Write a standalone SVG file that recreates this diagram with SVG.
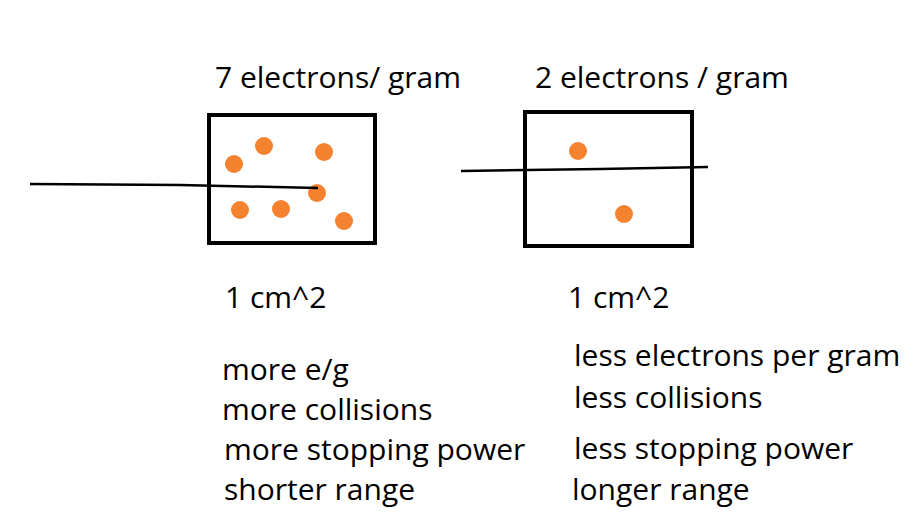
<svg xmlns="http://www.w3.org/2000/svg" width="911" height="531" viewBox="0 0 911 531">
<style>
text{font-family:"Open Sans","Noto Sans",sans-serif;font-size:30px;fill:#000}
.box{fill:none;stroke:#000;stroke-width:4}
.dot{fill:#f5822f}
.ln{fill:none;stroke:#000;stroke-width:2.5}
</style>
<rect width="911" height="531" fill="#fff"/>
<rect class="box" x="209" y="115" width="166" height="128"/>
<rect class="box" x="525" y="112" width="167" height="134"/>
<g>
<circle class="dot" cx="234" cy="164" r="9"/><circle class="dot" cx="264" cy="146" r="9"/>
<circle class="dot" cx="324" cy="152" r="9"/><circle class="dot" cx="240" cy="210" r="9"/>
<circle class="dot" cx="281" cy="209" r="9"/><circle class="dot" cx="317" cy="193" r="9"/>
<circle class="dot" cx="344" cy="221" r="9"/>
<circle class="dot" cx="578" cy="151" r="9"/><circle class="dot" cx="624" cy="214" r="9"/>
</g>
<path class="ln" d="M30 184 L180 185 L318 188"/>
<path class="ln" d="M461 171 L600 169 L708 167"/>
<text x="215" y="88">7 electrons/ gram</text>
<text x="535" y="88">2 electrons / gram</text>
<text x="225" y="308">1 cm^2</text>
<text x="568" y="308">1 cm^2</text>
<text x="222" y="380">more e/g</text>
<text x="222" y="420">more collisions</text>
<text x="224" y="460">more stopping power</text>
<text x="224" y="500">shorter range</text>
<text x="574" y="366">less electrons per gram</text>
<text x="574" y="408">less collisions</text>
<text x="574" y="459">less stopping power</text>
<text x="572" y="500">longer range</text>
</svg>
